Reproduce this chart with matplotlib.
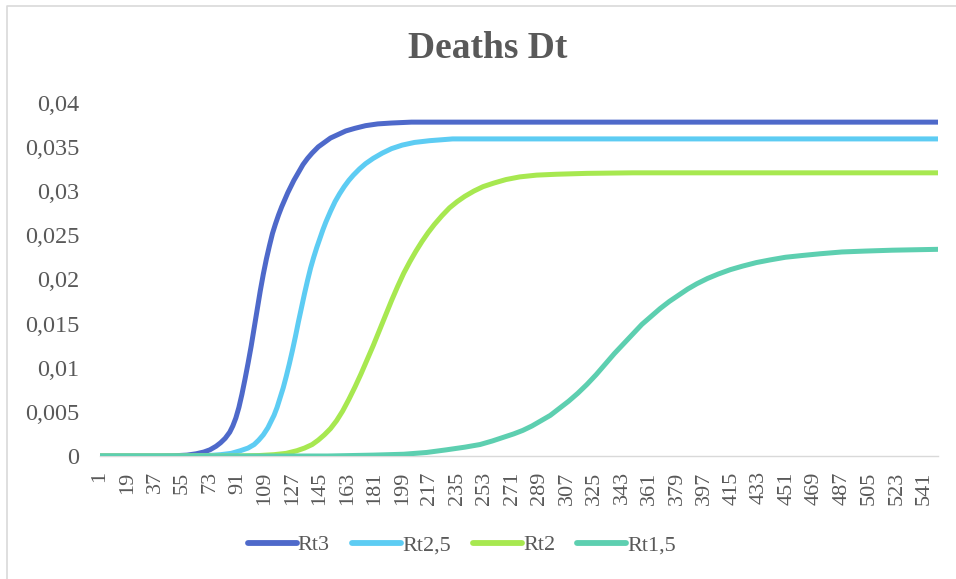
import matplotlib
matplotlib.use("Agg")
import matplotlib.pyplot as plt
from matplotlib.lines import Line2D

# Cumulative deaths share by day for each reproduction-number scenario
rt3_days = [1, 40, 50, 58, 64, 69, 73, 77, 80, 83, 86, 88, 90, 92, 94, 96, 98,
            100, 102, 104, 106, 108, 110, 112, 114, 116, 118, 120, 122, 124,
            126, 128, 130, 132, 134, 137, 140, 144, 148, 152, 157, 162, 168,
            175, 183, 192, 205, 225, 550]
rt3_vals = [0, 0, 0.00003, 0.0001, 0.00025, 0.00045, 0.0007, 0.0011, 0.0015,
            0.0020, 0.0027, 0.0034, 0.0043, 0.0055, 0.0070, 0.0087, 0.0105,
            0.0124, 0.0145, 0.0166, 0.0187, 0.0206, 0.0223, 0.0238, 0.0252,
            0.0263, 0.0273, 0.0282, 0.0290, 0.0298, 0.0305, 0.0312, 0.0318,
            0.0324, 0.0330, 0.0337, 0.0343, 0.0350, 0.0355, 0.0360, 0.0364,
            0.0368, 0.0371, 0.0374, 0.0376, 0.0377, 0.0378, 0.0378, 0.0378]

rt25_days = [1, 60, 72, 80, 87, 93, 98, 102, 105, 108, 111, 113, 115, 117, 119,
             121, 123, 125, 127, 129, 131, 133, 135, 137, 139, 141, 143, 145,
             147, 149, 152, 155, 158, 161, 164, 167, 171, 175, 180, 186, 192,
             199, 207, 217, 232, 260, 550]
rt25_vals = [0, 0, 0.00005, 0.00015, 0.0003, 0.0006, 0.0009, 0.0013, 0.0018,
             0.0024, 0.0032, 0.0039, 0.0046, 0.0055, 0.0066, 0.0077, 0.0090,
             0.0104, 0.0119, 0.0135, 0.0152, 0.0168, 0.0184, 0.0199, 0.0213,
             0.0225, 0.0236, 0.0246, 0.0256, 0.0265, 0.0277, 0.0288, 0.0297,
             0.0305, 0.0312, 0.0318, 0.0325, 0.0331, 0.0337, 0.0343, 0.0348,
             0.0352, 0.0355, 0.0357, 0.0359, 0.0359, 0.0359]

rt2_days = [1, 90, 105, 115, 123, 130, 135, 140, 144, 148, 152, 156, 160, 164,
            168, 172, 176, 180, 184, 188, 192, 196, 200, 204, 208, 212, 216,
            220, 225, 230, 235, 240, 246, 252, 259, 267, 276, 287, 300, 320,
            350, 550]
rt2_vals = [0, 0, 0.00005, 0.00015, 0.0003, 0.0006, 0.0009, 0.0013, 0.0018,
            0.0024, 0.0031, 0.0040, 0.0051, 0.0064, 0.0078, 0.0093, 0.0109,
            0.0125, 0.0142, 0.0159, 0.0176, 0.0192, 0.0207, 0.0220, 0.0232,
            0.0243, 0.0253, 0.0262, 0.0272, 0.0281, 0.0288, 0.0294, 0.0300,
            0.0305, 0.0309, 0.0313, 0.0316, 0.0318, 0.0319, 0.0320, 0.03206,
            0.03206]

rt15_days = [1, 150, 180, 200, 215, 228, 240, 250, 258, 265, 272, 278, 284, 290,
             296, 302, 308, 314, 320, 326, 332, 338, 344, 350, 356, 362, 368,
             374, 380, 386, 392, 399, 406, 414, 422, 431, 440, 450, 461, 473,
             487, 502, 520, 550]
rt15_vals = [0, 0, 0.0001, 0.0002, 0.0004, 0.0007, 0.0010, 0.0013, 0.0017,
             0.0021, 0.0025, 0.0029, 0.0034, 0.0040, 0.0046, 0.0054, 0.0062,
             0.0071, 0.0081, 0.0092, 0.0104, 0.0116, 0.0127, 0.0138, 0.0149,
             0.0158, 0.0167, 0.0175, 0.0182, 0.0189, 0.0195, 0.0201, 0.0206,
             0.0211, 0.0215, 0.0219, 0.0222, 0.0225, 0.0227, 0.0229, 0.0231,
             0.0232, 0.0233, 0.0234]

series_names = ["Rt3", "Rt2,5", "Rt2", "Rt1,5"]
series_colors = ["#4E69CA", "#5DCCF3", "#A7E850", "#5DCFB0"]

y_ticks = [0, 0.005, 0.01, 0.015, 0.02, 0.025, 0.03, 0.035, 0.04]
y_tick_labels = ["0", "0,005", "0,01", "0,015", "0,02", "0,025", "0,03",
                 "0,035", "0,04"]
x_ticks = [1, 19, 37, 55, 73, 91, 109, 127, 145, 163, 181, 199, 217, 235, 253,
           271, 289, 307, 325, 343, 361, 379, 397, 415, 433, 451, 469, 487,
           505, 523, 541]
x_tick_labels = [str(t) for t in x_ticks]

title_text = "Deaths Dt"

plt.rcParams["font.family"] = ["Liberation Serif", "DejaVu Serif"]
text_color = "#595959"

W, H = 956, 579
fig = plt.figure(figsize=(W / 100, H / 100), dpi=100)
fig.patch.set_facecolor("white")

ax = fig.add_axes([100 / W, 123 / H, 838 / W, 353.3 / H])

data = [(rt3_days, rt3_vals), (rt25_days, rt25_vals),
        (rt2_days, rt2_vals), (rt15_days, rt15_vals)]
for (d, v), name, col in zip(data, series_names, series_colors):
    ax.plot(d, v, color=col, lw=3.6, label=name,
            solid_capstyle="round", solid_joinstyle="round", zorder=3)

ax.set_xlim(1, 550)
ax.set_ylim(0, 0.04)
ax.set_yticks(y_ticks)
ax.set_yticklabels(y_tick_labels)
ax.set_xticks(x_ticks)
ax.set_xticklabels(x_tick_labels, rotation=90)

for s in ["left", "right", "top"]:
    ax.spines[s].set_visible(False)
ax.spines["bottom"].set_color("#D9D9D9")
ax.spines["bottom"].set_linewidth(1.0)
ax.spines["bottom"].set_zorder(1)

ax.tick_params(axis="y", length=0, pad=15, labelsize=17.5, labelcolor=text_color)
ax.tick_params(axis="x", length=0, pad=11, labelsize=16, labelcolor=text_color)

fig.text(488 / W, 1 - 48 / H, title_text, ha="center", va="center",
         fontsize=27, fontweight="bold", color=text_color)

leg = fig.legend(loc="center", bbox_to_anchor=(462 / W, 1 - 545 / H),
                 ncol=4, frameon=False, fontsize=16, handlelength=2.2,
                 handletextpad=0.05, columnspacing=1.0, labelcolor=text_color)
for h in leg.get_lines():
    h.set_linewidth(4.2)
    h.set_solid_capstyle("round")

# chart area border (left and top edges)
fig.add_artist(Line2D([7 / W, 7 / W, 1.0], [0.0, 1 - 6 / H, 1 - 6 / H],
                      transform=fig.transFigure, color="#D9D9D9", lw=1.2))

fig.savefig("out.png", dpi=100, facecolor="white")
